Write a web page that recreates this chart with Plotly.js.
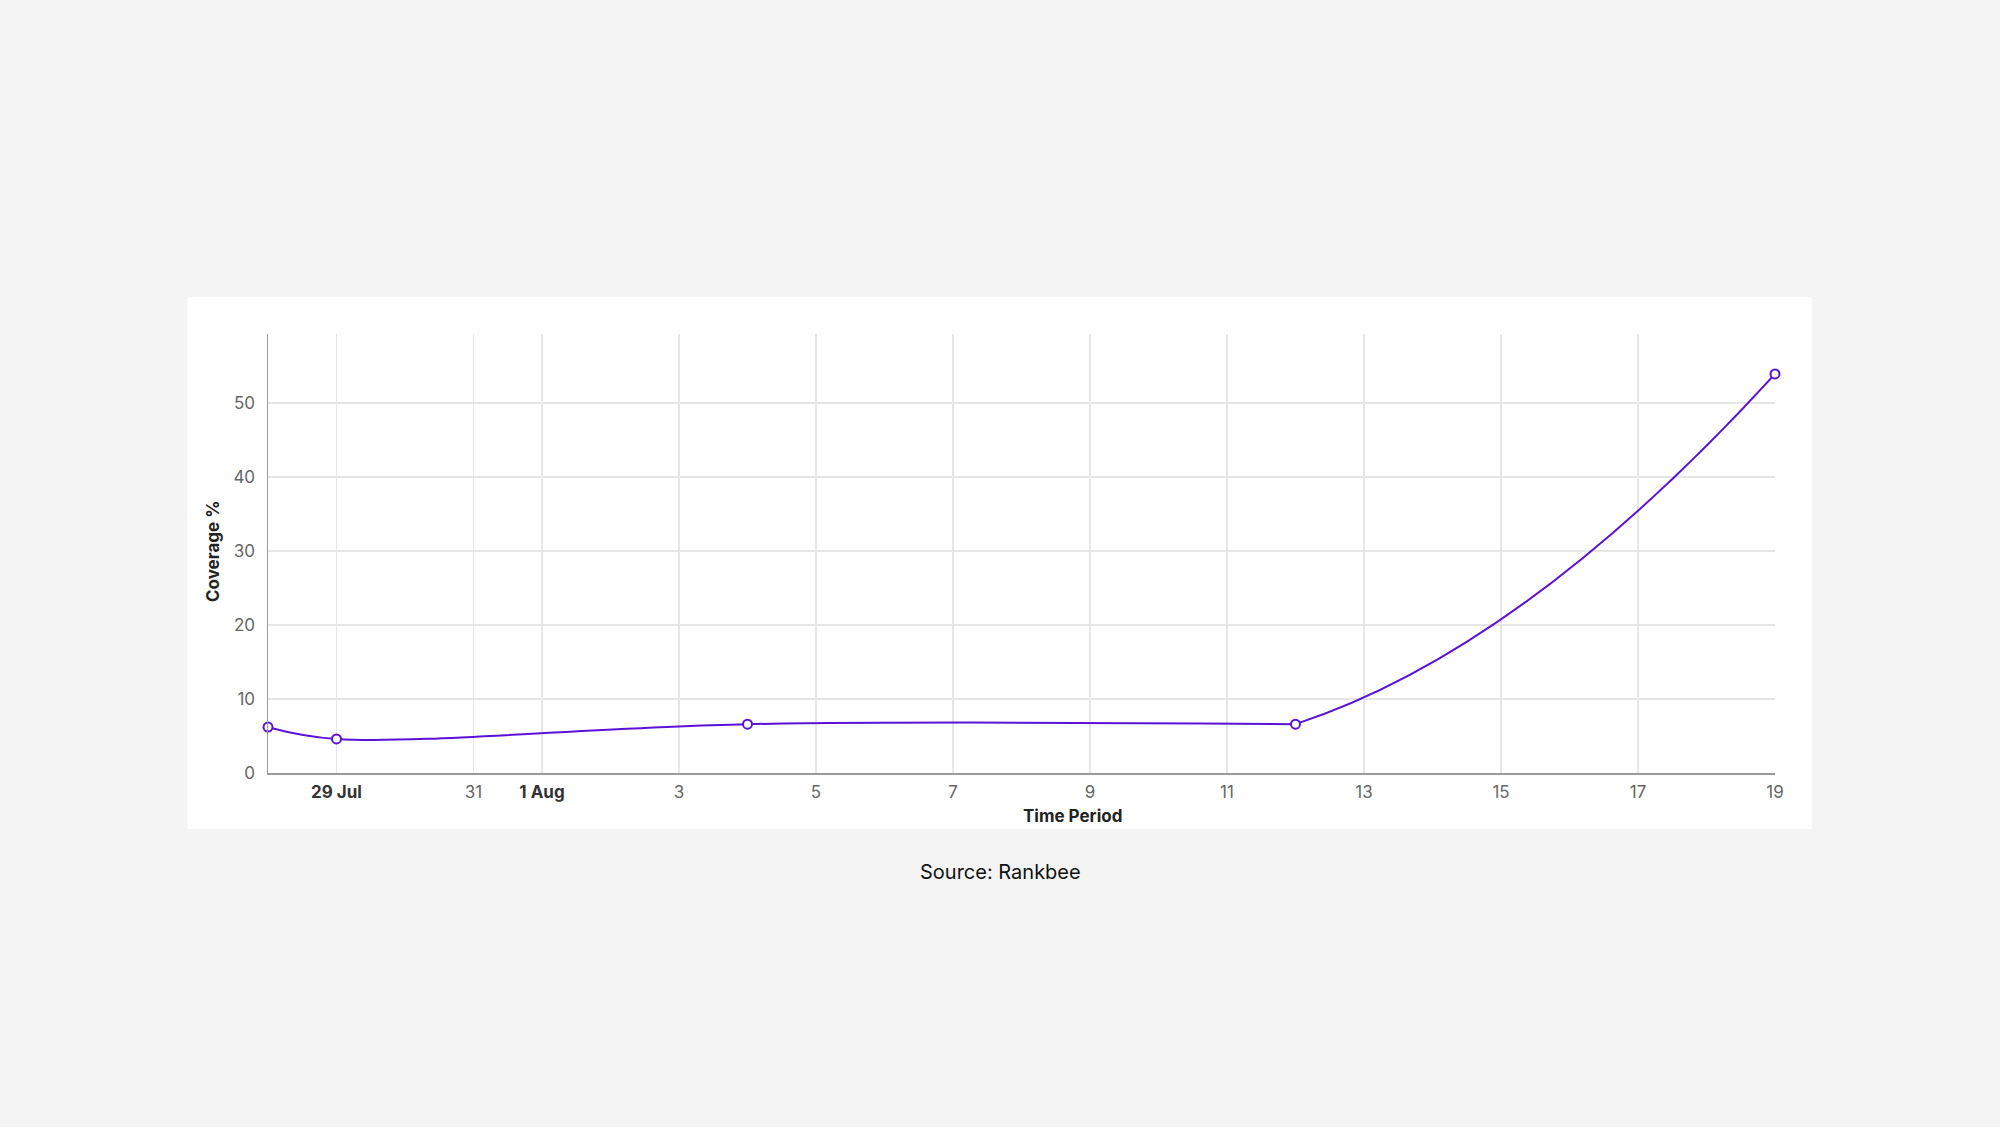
<!DOCTYPE html>
<html>
<head>
<meta charset="utf-8">
<script src="https://cdn.plot.ly/plotly-3.0.1.min.js"></script>
<style>
html,body{margin:0;padding:0;background:#f4f4f4;}
#chart{width:2000px;height:1127px;}
</style>
</head>
<body>
<div id="chart"></div>
<script>
const dates = ['2024-07-28', '2024-07-29', '2024-08-04', '2024-08-12', '2024-08-19'];
const coverage = [6.2, 4.6, 6.6, 6.6, 53.9];
const tickDates = ['2024-07-29', '2024-07-31', '2024-08-01', '2024-08-03', '2024-08-05', '2024-08-07', '2024-08-09', '2024-08-11', '2024-08-13', '2024-08-15', '2024-08-17', '2024-08-19'];
const tickLabels = ['<b style="color:#333">29 Jul</b>', '31', '<b style="color:#333">1 Aug</b>', '3', '5', '7', '9', '11', '13', '15', '17', '19'];
const yTicks = [0, 10, 20, 30, 40, 50];
const xTitle = 'Time Period';
const yTitle = 'Coverage %';
const sourceText = 'Source: Rankbee';

const purple = '#5b12d6';
const fontFam = 'Inter, "Liberation Sans", sans-serif';

const xStart = '2024-07-28', xEnd = '2024-08-19';
const yRange = [0, 59.3];
const ms = d => new Date(d + 'T00:00:00Z').getTime();
// second (hidden) subplot starts at the last flat point so the rising part is clipped there
const splitIdx = 3;
const splitFrac = (ms(dates[splitIdx]) - ms(xStart)) / (ms(xEnd) - ms(xStart));

const markerStyle = {size: 9, color: '#ffffff', line: {color: purple, width: 2}};

const lineA = {
  x: dates.slice(0, splitIdx + 1), y: coverage.slice(0, splitIdx + 1),
  type: 'scatter', mode: 'lines', xaxis: 'x', yaxis: 'y',
  line: {color: purple, width: 2, shape: 'spline', smoothing: 1},
  hoverinfo: 'skip'
};
const markersA = {
  x: dates.slice(0, splitIdx), y: coverage.slice(0, splitIdx),
  type: 'scatter', mode: 'markers', xaxis: 'x', yaxis: 'y',
  marker: markerStyle, cliponaxis: false, hoverinfo: 'skip'
};
const lineB = {
  x: dates.slice(splitIdx - 1), y: coverage.slice(splitIdx - 1),
  type: 'scatter', mode: 'lines', xaxis: 'x2', yaxis: 'y2',
  line: {color: purple, width: 2, shape: 'spline', smoothing: 1.3},
  hoverinfo: 'skip'
};
const markersB = {
  x: dates.slice(splitIdx), y: coverage.slice(splitIdx),
  type: 'scatter', mode: 'markers', xaxis: 'x2', yaxis: 'y2',
  marker: markerStyle, cliponaxis: false, hoverinfo: 'skip'
};

const layout = {
  width: 2000,
  height: 1127,
  paper_bgcolor: '#f4f4f4',
  plot_bgcolor: 'rgba(0,0,0,0)',
  margin: {l: 268, r: 225, t: 334, b: 354, pad: 0},
  showlegend: false,
  font: {family: fontFam, size: 17, color: '#666666'},
  xaxis: {
    type: 'date',
    domain: [0, 1],
    range: [xStart, xEnd],
    tickmode: 'array',
    tickvals: tickDates,
    ticktext: tickLabels,
    showgrid: true,
    gridcolor: '#e6e6e6',
    gridwidth: 1.5,
    showline: true,
    linecolor: '#9a9a9a',
    linewidth: 1.5,
    ticks: '',
    ticklabelstandoff: 3,
    tickfont: {family: fontFam, size: 17, color: '#666666'},
    zeroline: false,
    fixedrange: true
  },
  yaxis: {
    domain: [0, 1],
    range: yRange,
    tickmode: 'array',
    tickvals: yTicks,
    showgrid: true,
    gridcolor: '#e6e6e6',
    gridwidth: 1.5,
    showline: true,
    linecolor: '#9a9a9a',
    linewidth: 1.5,
    ticks: '',
    ticklabelstandoff: 8,
    tickfont: {family: fontFam, size: 17, color: '#666666'},
    zeroline: false,
    fixedrange: true
  },
  xaxis2: {
    type: 'date', domain: [splitFrac, 1], range: [dates[splitIdx], xEnd],
    anchor: 'y2', visible: false, fixedrange: true
  },
  yaxis2: {
    domain: [0, 1], range: yRange, anchor: 'x2', visible: false, fixedrange: true
  },
  shapes: [{
    type: 'rect', xref: 'paper', yref: 'paper', layer: 'below',
    x0: -0.0534, x1: 1.0245, y0: -0.1276, y1: 1.0843,
    fillcolor: '#ffffff', line: {width: 0}
  }],
  annotations: [
    {text: '<b>' + xTitle + '</b>', xref: 'paper', yref: 'paper',
     x: (1072 - 268) / 1507, y: (773 - 816) / 439, xanchor: 'center', yanchor: 'middle',
     showarrow: false, font: {family: fontFam, size: 17, color: '#222222'}},
    {text: '<b>' + yTitle + '</b>', xref: 'paper', yref: 'paper', textangle: -90,
     x: (213 - 268) / 1507, y: (773 - 552) / 439, xanchor: 'center', yanchor: 'middle',
     showarrow: false, font: {family: fontFam, size: 17, color: '#222222'}},
    {text: sourceText, xref: 'paper', yref: 'paper',
     x: (1000 - 268) / 1507, y: (773 - 872) / 439, xanchor: 'center', yanchor: 'middle',
     showarrow: false, font: {family: fontFam, size: 20, color: '#111111'}}
  ]
};

Plotly.newPlot('chart', [lineA, markersA, lineB, markersB], layout, {displayModeBar: false, staticPlot: true});
</script>
</body>
</html>
